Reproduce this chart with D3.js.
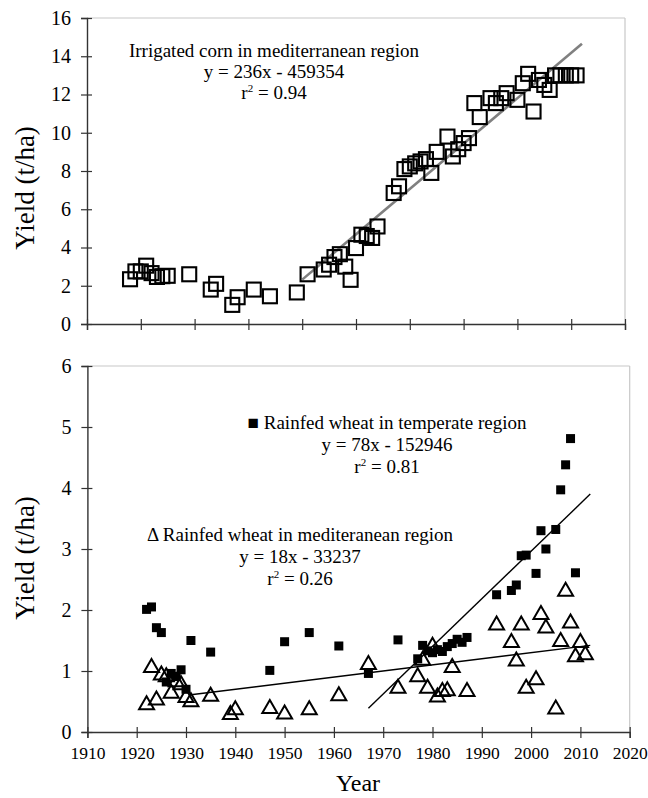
<!DOCTYPE html>
<html lang="en">
<head>
<meta charset="UTF-8">
<title>Yield trends</title>
<script src="https://d3js.org/d3.v7.min.js"></script>
<style>
    html,body{margin:0;padding:0;background:#fff;}
    svg{display:block;}
    svg text{font-family:"Liberation Serif","Tinos","Times New Roman","DejaVu Serif",serif;fill:#000;}
</style>
</head>
<body>
<div id="chart"></div>
<script>
// irrigated corn, mediterranean region (t/ha)
var cornYears = [1928,1929,1930,1931,1932,1933,1934,1935,1939,1943,1944,1947,1948,1951,1954,1959,1961,
    1964,1965,1966,1967,1968,1969,1970,1971,1972,1973,1974,1977,1978,1979,1980,1981,1982,1983,1984,1985,
    1987,1988,1989,1990,1991,1992,1993,1995,1996,1997,1998,2000,2001,2002,2003,2004,2005,2006,
    2007,2008,2009,2010,2011];
var cornYield = [2.34,2.75,2.75,3.05,2.66,2.46,2.5,2.52,2.6,1.8,2.1,1.0,1.4,1.8,1.45,1.65,2.6,
    2.85,3.1,3.5,3.65,3.0,2.31,3.97,4.67,4.6,4.5,5.1,6.85,7.2,8.1,8.24,8.4,8.5,8.62,7.9,9.0,
    9.8,8.76,9.14,9.46,9.72,11.55,10.82,11.81,11.55,11.81,12.07,11.72,12.59,13.08,11.11,12.76,12.5,12.24,
    13,13,13,13,13];
var cornTrend = [[1960,2.32],[2012,14.65]];

// rainfed wheat, temperate region (t/ha)
var tempYears = [1922,1923,1924,1925,1926,1927,1928,1929,1930,1931,1935,1947,1950,1955,1961,1967,1973,
    1977,1978,1979,1980,1981,1982,1983,1984,1985,1986,1987,1993,1996,1997,1998,1999,2001,2002,2003,
    2005,2006,2007,2008,2009];
var tempYield = [2.01,2.05,1.71,1.63,0.82,0.96,0.91,1.02,0.7,1.5,1.31,1.01,1.48,1.63,1.41,0.96,1.51,
    1.2,1.42,1.33,1.3,1.35,1.32,1.4,1.45,1.52,1.47,1.55,2.25,2.32,2.41,2.89,2.9,2.6,3.3,3.0,
    3.32,3.97,4.38,4.81,2.61];
var tempTrend = [[1967,0.39],[2012,3.9]];

// rainfed wheat, mediterranean region (t/ha)
var medYears = [1922,1923,1924,1925,1926,1927,1928,1929,1930,1931,1935,1939,1940,1947,1950,1955,1961,
    1967,1973,1977,1978,1979,1980,1981,1982,1983,1984,1987,1993,1996,1997,1998,1999,2001,2002,2003,
    2005,2006,2007,2008,2009,2010,2011];
var medYield = [0.47,1.08,0.55,0.96,0.93,0.66,0.85,0.8,0.59,0.52,0.61,0.31,0.39,0.41,0.32,0.39,0.62,
    1.13,0.74,0.93,1.2,0.74,1.43,0.6,0.69,0.7,1.08,0.69,1.78,1.49,1.19,1.78,0.74,0.88,1.95,1.73,
    0.4,1.51,2.33,1.81,1.26,1.49,1.29];
var medTrend = [[1931,0.61],[2012,1.42]];

var topYTicks = [0,2,4,6,8,10,12,14,16];
var botYTicks = [0,1,2,3,4,5,6];
var botXTicks = [1910,1920,1930,1940,1950,1960,1970,1980,1990,2000,2010,2020];
var topXTicks = [1920,1930,1940,1950,1960,1970,1980,1990,2000,2010,2020];

var W = 648, H = 798;
var svg = d3.select("#chart").append("svg").attr("width", W).attr("height", H);

function zip(a, b){ return a.map(function(d, i){ return [d, b[i]]; }); }

function frame(x, y){
    var g = svg.append("g");
    // light border of the plot area
    g.append("line").attr("x1", x.range()[0]).attr("x2", x.range()[1])
        .attr("y1", y.range()[1]).attr("y2", y.range()[1]).attr("stroke", "#c8c8c8").attr("stroke-width", 1.2);
    g.append("line").attr("x1", x.range()[1]).attr("x2", x.range()[1])
        .attr("y1", y.range()[0]).attr("y2", y.range()[1]).attr("stroke", "#c8c8c8").attr("stroke-width", 1.2);
    return g;
}

function axes(x, y, xt, yt, xlabels){
    var ax = svg.append("g").attr("transform", "translate(0," + y.range()[0] + ")")
        .call(d3.axisBottom(x).tickValues(xt).tickSizeOuter(0).tickSize(6)
            .tickFormat(xlabels ? d3.format("d") : function(){ return ""; }));
    ax.attr("font-family", null);
    ax.selectAll(".tick line").attr("y1", -5).attr("stroke", "#333").attr("stroke-width", 1.2);
    ax.select(".domain").attr("stroke", "#333").attr("stroke-width", 1.4);
    ax.selectAll("text").attr("font-size", 17.5).attr("dy", "1.0em").attr("fill", "#000");

    var ay = svg.append("g").attr("transform", "translate(" + x.range()[0] + ",0)")
        .call(d3.axisLeft(y).tickValues(yt).tickFormat(d3.format("d"))
            .tickSizeOuter(0).tickSize(6).tickPadding(10));
    ay.attr("font-family", null);
    ay.selectAll(".tick line").attr("x1", 5).attr("stroke", "#333").attr("stroke-width", 1.2);
    ay.select(".domain").attr("stroke", "#333").attr("stroke-width", 1.4);
    ay.selectAll("text").attr("font-size", 20).attr("fill", "#000");
}

function yTitle(cy){
    svg.append("text").attr("transform", "translate(34," + cy + ") rotate(-90)")
        .attr("text-anchor", "middle").attr("font-size", 27).text("Yield (t/ha)");
}

function note(lines, cx, y0, dy){
    lines.forEach(function(s, i){
        var t = svg.append("text").attr("x", cx).attr("y", y0 + i * dy)
            .attr("text-anchor", "middle").attr("font-size", 19);
        if (s.indexOf("r2") === 0) {
            t.append("tspan").text("r");
            t.append("tspan").attr("font-size", 11).attr("dy", -7).text("2");
            t.append("tspan").attr("dy", 7).text(s.slice(2));
        } else {
            t.text(s);
        }
    });
}

// ---------- top panel ----------
var xT = d3.scaleLinear().domain([1920, 2020]).range([87, 625]);
var yT = d3.scaleLinear().domain([0, 16]).range([324, 18]);
frame(xT, yT);
axes(xT, yT, topXTicks, topYTicks, false);
yTitle(188);

svg.append("path").datum(cornTrend)
    .attr("d", d3.line().x(function(d){ return xT(d[0]); }).y(function(d){ return yT(d[1]); }))
    .attr("stroke", "#808080").attr("stroke-width", 2.6).attr("fill", "none");

svg.append("g").selectAll("rect").data(zip(cornYears, cornYield)).enter().append("rect")
    .attr("x", function(d){ return xT(d[0]) - 7; })
    .attr("y", function(d){ return yT(d[1]) - 7; })
    .attr("width", 14).attr("height", 14)
    .attr("fill", "none").attr("stroke", "#000").attr("stroke-width", 2.1);

note(["Irrigated corn in mediterranean region", "y = 236x - 459354", "r2 = 0.94"], 274, 57, 21);

// ---------- bottom panel ----------
var xB = d3.scaleLinear().domain([1910, 2020]).range([87.4, 629.7]);
var yB = d3.scaleLinear().domain([0, 6]).range([732, 366]);
frame(xB, yB);
axes(xB, yB, botXTicks, botYTicks, true);
yTitle(558);

var tri = "M0,-7L7.5,6L-7.5,6Z";
svg.append("g").selectAll("path").data(zip(medYears, medYield)).enter().append("path")
    .attr("d", tri)
    .attr("transform", function(d){ return "translate(" + xB(d[0]) + "," + yB(d[1]) + ")"; })
    .attr("fill", "none").attr("stroke", "#000").attr("stroke-width", 2);

[medTrend, tempTrend].forEach(function(t){
    svg.append("path").datum(t)
        .attr("d", d3.line().x(function(d){ return xB(d[0]); }).y(function(d){ return yB(d[1]); }))
        .attr("stroke", "#000").attr("stroke-width", 1.4).attr("fill", "none");
});

svg.append("g").selectAll("rect").data(zip(tempYears, tempYield)).enter().append("rect")
    .attr("x", function(d){ return xB(d[0]) - 4.5; })
    .attr("y", function(d){ return yB(d[1]) - 4.5; })
    .attr("width", 9).attr("height", 9).attr("fill", "#000");

note(["\u25A0 Rainfed wheat in temperate region", "y = 78x - 152946", "r2 = 0.81"], 387, 429, 22);
note(["\u0394 Rainfed wheat in mediteranean region", "y = 18x - 33237", "r2 = 0.26"], 300, 541, 22);

svg.append("text").attr("x", 358).attr("y", 791).attr("text-anchor", "middle")
    .attr("font-size", 24).text("Year");
</script>
</body>
</html>
